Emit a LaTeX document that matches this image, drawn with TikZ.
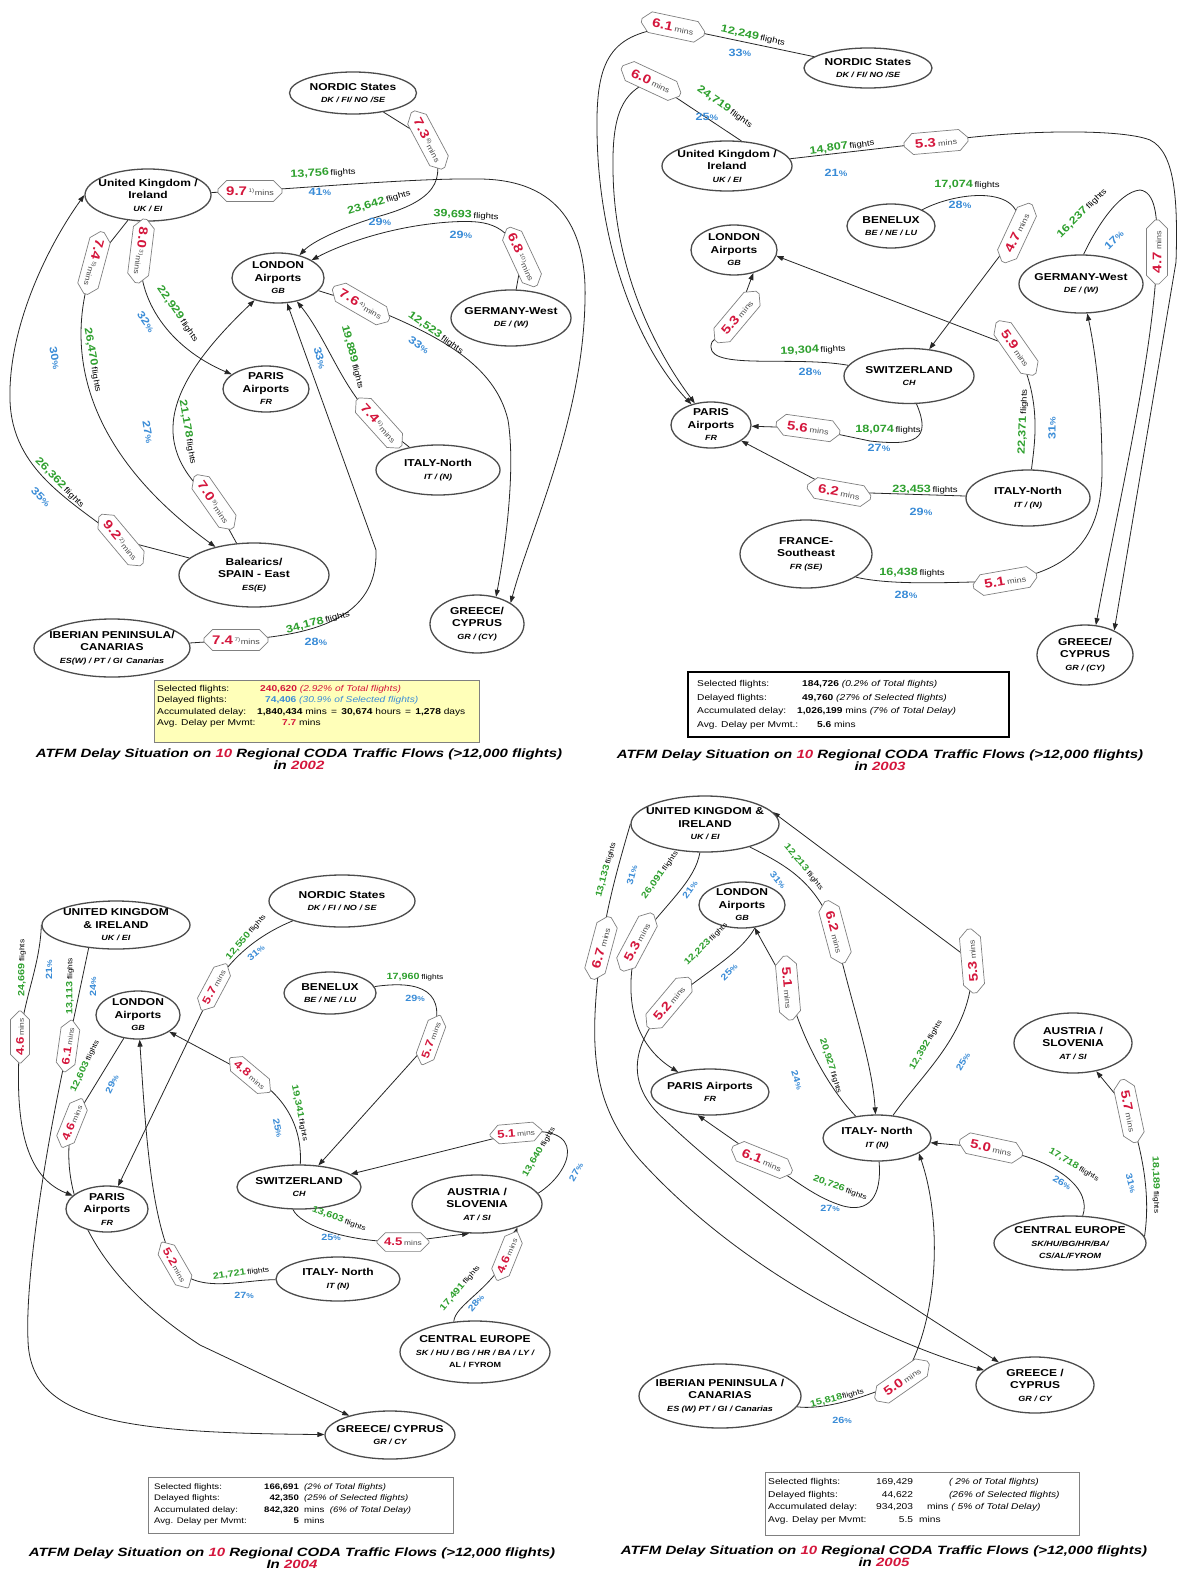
\documentclass[tikz,border=0pt]{standalone}
\usepackage{fontspec}
\setmainfont{Liberation Sans}[FakeStretch=1.2]
\newfontfamily\ttlfont{Liberation Sans}[FakeStretch=1.25]
\usetikzlibrary{shapes.geometric,shapes.misc,arrows.meta,backgrounds}
\definecolor{cred}{RGB}{212,22,60}
\definecolor{cgreen}{RGB}{46,160,46}
\definecolor{cblue}{RGB}{58,140,215}
\definecolor{cyel}{RGB}{255,255,185}
\newcommand\RegCode[1]{{\fontsize{7.5}{8}\selectfont\itshape #1}}
\newcommand\MinsLbl[2][]{{\fontsize{12.5}{13}\selectfont\bfseries\color{cred}#2}\,{\fontsize{7.5}{8}\selectfont\color{black!70}\textsuperscript{#1}mins}}
\newcommand\MinsS[1]{{\fontsize{11}{12}\selectfont\bfseries\color{cred}#1}\,{\fontsize{7}{8}\selectfont\color{black!70}mins}}
\newcommand\FlLbl[1]{{\fontsize{10.5}{11}\selectfont\bfseries\color{cgreen}#1}\,{\fontsize{8}{9}\selectfont flights}}
\newcommand\FlS[1]{{\fontsize{9}{10}\selectfont\bfseries\color{cgreen}#1}\,{\fontsize{7}{8}\selectfont flights}}
\newcommand\PcLbl[1]{{\fontsize{10.5}{11}\selectfont\bfseries\color{cblue}#1{\fontsize{8}{9}\selectfont\%}}}
\newcommand\PcS[1]{{\fontsize{9}{10}\selectfont\bfseries\color{cblue}#1{\fontsize{7}{8}\selectfont\%}}}
\begin{document}
\begin{tikzpicture}[x=1pt,y=-1pt,
 reg/.style={ellipse,draw=black!70,line width=1.3pt,fill=white,align=center,inner xsep=-10pt,inner ysep=-5pt,font=\fontsize{10}{12.5}\selectfont\bfseries},
 mbox/.style={chamfered rectangle,chamfered rectangle xsep=5pt,draw=black!50,line width=0.7pt,fill=white,inner xsep=1pt,inner ysep=2pt,minimum width=64pt,minimum height=21pt},
 mboxs/.style={mbox,minimum width=52pt,minimum height=18pt},
 lbl/.style={inner sep=0pt},
 flow/.style={draw=black!85,line width=0.8pt,-{Triangle[length=7pt,width=5pt]}},
 sbox/.style={draw=black!50,line width=0.8pt,inner sep=0pt},
 stxt/.style={anchor=north west,inner sep=0pt},
 ttl/.style={align=center,font=\ttlfont\fontsize{12}{12.5}\selectfont\bfseries\itshape}]
\useasboundingbox (0,0) rectangle (1178,1571);

% ================= PANEL 1 (2002) =================
\node[reg,minimum width=127pt,minimum height=42pt] (p1nor) at (353,93) {NORDIC States\\\RegCode{DK / FI/ NO /SE}};
\node[reg,minimum width=126pt,minimum height=52pt] (p1uk) at (148,195) {United Kingdom /\\Ireland\\\RegCode{UK / EI}};
\node[reg,minimum width=92pt,minimum height=50pt] (p1lon) at (278,278) {LONDON\\Airports\\\RegCode{GB}};
\node[reg,minimum width=120pt,minimum height=56pt] (p1de) at (511,318) {GERMANY-West\\\RegCode{DE / (W)}};
\node[reg,minimum width=86pt,minimum height=46pt] (p1par) at (266,389) {PARIS\\Airports\\\RegCode{FR}};
\node[reg,minimum width=124pt,minimum height=50pt] (p1it) at (438,470) {ITALY-North\\\RegCode{IT / (N)}};
\node[reg,minimum width=150pt,minimum height=64pt] (p1bal) at (254,575) {Balearics/\\SPAIN - East\\\RegCode{ES(E)}};
\node[reg,minimum width=156pt,minimum height=58pt] (p1ib) at (112,648) {IBERIAN PENINSULA/\\CANARIAS\\\RegCode{ES(W) / PT / GI\enspace Canarias}};
\node[reg,minimum width=94pt,minimum height=58pt] (p1gr) at (477,624) {GREECE/\\CYPRUS\\\RegCode{GR / (CY)}};

\node[mbox,rotate=-62] (m1a) at (428,140) {\MinsLbl[8)]{7.3}};
\node[mbox] (m1b) at (250,191) {\MinsLbl[1)]{9.7}};
\node[mbox,rotate=-65] (m1c) at (522,257) {\MinsLbl[10)]{6.8}};
\node[mbox,rotate=-30] (m1d) at (361,304) {\MinsLbl[4)]{7.6}};
\node[mbox,rotate=-48] (m1e) at (379,423) {\MinsLbl[6)]{7.4}};
\node[mbox,rotate=-97] (m1f) at (141,251) {\MinsLbl[3)]{8.0}};
\node[mbox,rotate=-105] (m1g) at (94,263) {\MinsLbl[5)]{7.4}};
\node[mbox,rotate=-50] (m1h) at (121,540) {\MinsLbl[2)]{9.2}};
\node[mbox,rotate=-55] (m1i) at (214,502) {\MinsLbl[9)]{7.0}};
\node[mbox] (m1j) at (236,640) {\MinsLbl[7)]{7.4}};

\node[lbl,rotate=3] (f1a) at (323,173) {\FlLbl{13,756}};
\node[lbl] (q1a) at (320,192) {\PcLbl{41}};
\node[lbl,rotate=17] (f1b) at (379,202) {\FlLbl{23,642}};
\node[lbl] (q1b) at (380,222) {\PcLbl{29}};
\node[lbl,rotate=-3] (f1c) at (466,215) {\FlLbl{39,693}};
\node[lbl] (q1c) at (461,235) {\PcLbl{29}};
\node[lbl,rotate=-55] (f1d) at (178,314) {\FlLbl{22,929}};
\node[lbl,rotate=-55] (q1d) at (146,322) {\PcLbl{32}};
\node[lbl,rotate=-80] (f1e) at (93,360) {\FlLbl{26,470}};
\node[lbl,rotate=-80] (q1e) at (55,358) {\PcLbl{30}};
\node[lbl,rotate=-75] (f1f) at (353,357) {\FlLbl{19,889}};
\node[lbl,rotate=-75] (q1f) at (320,358) {\PcLbl{33}};
\node[lbl,rotate=-35] (f1g) at (436,333) {\FlLbl{12,523}};
\node[lbl,rotate=-35] (q1g) at (419,345) {\PcLbl{33}};
\node[lbl,rotate=-80] (f1h) at (188,432) {\FlLbl{21,178}};
\node[lbl,rotate=-80] (q1h) at (148,432) {\PcLbl{27}};
\node[lbl,rotate=-45] (f1i) at (60,483) {\FlLbl{26,362}};
\node[lbl,rotate=-45] (q1i) at (41,497) {\PcLbl{35}};
\node[lbl,rotate=15] (f1j) at (318,622) {\FlLbl{34,178}};
\node[lbl] (q1j) at (316,642) {\PcLbl{28}};

\node[sbox,fill=cyel,minimum width=325pt,minimum height=62pt] (s1) at (316.5,711) {};
\node[stxt,font=\fontsize{8.5}{11.5}\selectfont] (s1t) at (157,683) {\begin{tabular}{@{}p{103pt}@{}l@{}}
Selected flights: & \color{cred}\textbf{240,620} \textit{(2.92\% of Total flights)}\\
Delayed flights: & \hspace*{5pt}\color{cblue}\textbf{74,406} \textit{(30.9\% of Selected flights)}\\
Accumulated delay: & \hspace*{-3pt}\textbf{1,840,434} mins \,=\, \textbf{30,674} hours \,=\, \textbf{1,278} days\\
Avg. Delay per Mvmt: & \hspace*{22pt}\textcolor{cred}{\textbf{7.7}} mins
\end{tabular}};
\node[ttl] (t1) at (299,759) {ATFM Delay Situation on \textcolor{cred}{10} Regional CODA Traffic Flows (>12,000 flights)\\in \textcolor{cred}{2002}};

% ================= PANEL 2 (2003) =================
\node[reg,minimum width=128pt,minimum height=40pt] (p2nor) at (868,68) {NORDIC States\\\RegCode{DK / FI/ NO /SE}};
\node[reg,minimum width=130pt,minimum height=50pt] (p2uk) at (727,166) {United Kingdom /\\Ireland\\\RegCode{UK / EI}};
\node[reg,minimum width=88pt,minimum height=44pt] (p2bnl) at (891,226) {BENELUX\\\RegCode{BE / NE / LU}};
\node[reg,minimum width=86pt,minimum height=50pt] (p2lon) at (734,250) {LONDON\\Airports\\\RegCode{GB}};
\node[reg,minimum width=124pt,minimum height=58pt] (p2de) at (1081,284) {GERMANY-West\\\RegCode{DE / (W)}};
\node[reg,minimum width=130pt,minimum height=55pt] (p2ch) at (909,376) {SWITZERLAND\\\RegCode{CH}};
\node[reg,minimum width=80pt,minimum height=46pt] (p2par) at (711,425) {PARIS\\Airports\\\RegCode{FR}};
\node[reg,minimum width=124pt,minimum height=56pt] (p2it) at (1028,498) {ITALY-North\\\RegCode{IT / (N)}};
\node[reg,minimum width=132pt,minimum height=68pt] (p2fr) at (806,554) {FRANCE-\\Southeast\\\RegCode{FR (SE)}};
\node[reg,minimum width=96pt,minimum height=60pt] (p2gr) at (1085,655) {GREECE/\\CYPRUS\\\RegCode{GR / (CY)}};

\node[mbox,rotate=-12] (m2a) at (673,27) {\MinsLbl{6.1}};
\node[mbox,rotate=-25] (m2b) at (651,81) {\MinsLbl{6.0}};
\node[mbox,rotate=5] (m2c) at (936,142) {\MinsLbl{5.3}};
\node[mbox,rotate=65] (m2d) at (1017,233) {\MinsLbl{4.7}};
\node[mbox,rotate=90] (m2e) at (1157,252) {\MinsLbl{4.7}};
\node[mbox,rotate=50] (m2f) at (737,317) {\MinsLbl{5.3}};
\node[mbox,rotate=-55] (m2g) at (1016,348) {\MinsLbl{5.9}};
\node[mbox,rotate=-8] (m2h) at (808,428) {\MinsLbl{5.6}};
\node[mbox,rotate=-10] (m2i) at (839,492) {\MinsLbl{6.2}};
\node[mbox,rotate=10] (m2j) at (1005,581) {\MinsLbl{5.1}};

\node[lbl,rotate=-12] (f2a) at (753,36) {\FlLbl{12,249}};
\node[lbl] (q2a) at (740,53) {\PcLbl{33}};
\node[lbl,rotate=-35] (f2b) at (725,107) {\FlLbl{24,719}};
\node[lbl] (q2b) at (707,117) {\PcLbl{25}};
\node[lbl,rotate=8] (f2c) at (842,147) {\FlLbl{14,807}};
\node[lbl] (q2c) at (836,173) {\PcLbl{21}};
\node[lbl] (f2d) at (967,185) {\FlLbl{17,074}};
\node[lbl] (q2d) at (960,205) {\PcLbl{28}};
\node[lbl,rotate=45] (f2e) at (1082,213) {\FlLbl{16,237}};
\node[lbl,rotate=45] (q2e) at (1114,240) {\PcLbl{17}};
\node[lbl,rotate=3] (f2f) at (813,350) {\FlLbl{19,304}};
\node[lbl] (q2f) at (810,372) {\PcLbl{28}};
\node[lbl] (f2g) at (888,430) {\FlLbl{18,074}};
\node[lbl] (q2g) at (879,448) {\PcLbl{27}};
\node[lbl,rotate=88] (f2h) at (1023,422) {\FlLbl{22,371}};
\node[lbl,rotate=90] (q2h) at (1052,428) {\PcLbl{31}};
\node[lbl] (f2i) at (925,490) {\FlLbl{23,453}};
\node[lbl] (q2i) at (921,512) {\PcLbl{29}};
\node[lbl] (f2j) at (912,573) {\FlLbl{16,438}};
\node[lbl] (q2j) at (906,595) {\PcLbl{28}};

\node[sbox,draw=black,line width=1.8pt,minimum width=321pt,minimum height=65pt] (s2) at (848.5,704.5) {};
\node[stxt,font=\fontsize{8.5}{13.5}\selectfont] (s2t) at (697,677) {\begin{tabular}{@{}p{105pt}@{}l@{}}
Selected flights: & \textbf{184,726} \textit{(0.2\% of Total flights)}\\
Delayed flights: & \textbf{49,760} \textit{(27\% of Selected flights)}\\
Accumulated delay: & \hspace*{-5pt}\textbf{1,026,199} mins \textit{(7\% of Total Delay)}\\
Avg. Delay per Mvmt.: & \hspace*{15pt}\textbf{5.6} mins
\end{tabular}};
\node[ttl] (t2) at (880,760) {ATFM Delay Situation on \textcolor{cred}{10} Regional CODA Traffic Flows (>12,000 flights)\\in \textcolor{cred}{2003}};

% ================= PANEL 3 (2004) =================
\node[reg,minimum width=148pt,minimum height=48pt] (p3uk) at (116,925) {UNITED KINGDOM\\\& IRELAND\\\RegCode{UK / EI}};
\node[reg,minimum width=146pt,minimum height=52pt] (p3nor) at (342,901) {NORDIC States\\\RegCode{DK / FI / NO / SE}};
\node[reg,minimum width=92pt,minimum height=42pt] (p3bnl) at (330,993) {BENELUX\\\RegCode{BE / NE / LU}};
\node[reg,minimum width=84pt,minimum height=48pt] (p3lon) at (138,1015) {LONDON\\Airports\\\RegCode{GB}};
\node[reg,minimum width=124pt,minimum height=44pt] (p3ch) at (299,1187) {SWITZERLAND\\\RegCode{CH}};
\node[reg,minimum width=130pt,minimum height=58pt] (p3at) at (477,1204) {AUSTRIA /\\SLOVENIA\\\RegCode{AT / SI}};
\node[reg,minimum width=82pt,minimum height=46pt] (p3par) at (107,1209) {PARIS\\Airports\\\RegCode{FR}};
\node[reg,minimum width=124pt,minimum height=44pt] (p3it) at (338,1279) {ITALY- North\\\RegCode{IT (N)}};
\node[reg,minimum width=150pt,minimum height=62pt] (p3ceu) at (475,1352) {CENTRAL EUROPE\\\RegCode{SK / HU / BG / HR / BA / LY /}\\{\fontsize{7.5}{8}\selectfont AL / FYROM}};
\node[reg,minimum width=130pt,minimum height=48pt] (p3gr) at (390,1435) {GREECE/ CYPRUS\\\RegCode{GR / CY}};

\node[mboxs,rotate=90] (m3a) at (20,1037) {\MinsS{4.6}};
\node[mboxs,rotate=82] (m3b) at (68,1046) {\MinsS{6.1}};
\node[mboxs,rotate=68] (m3c) at (72,1123) {\MinsS{4.6}};
\node[mboxs,rotate=62] (m3d) at (214,987) {\MinsS{5.7}};
\node[mboxs,rotate=70] (m3e) at (431,1040) {\MinsS{5.7}};
\node[mboxs,rotate=-40] (m3f) at (250,1075) {\MinsS{4.8}};
\node[mboxs,rotate=5] (m3g) at (516,1133) {\MinsS{5.1}};
\node[mboxs] (m3h) at (403,1242) {\MinsS{4.5}};
\node[mboxs,rotate=68] (m3i) at (507,1256) {\MinsS{4.6}};
\node[mboxs,rotate=-60] (m3j) at (175,1265) {\MinsS{5.2}};

\node[lbl,rotate=90] (f3a) at (22,968) {\FlS{24,669}};
\node[lbl,rotate=90] (q3a) at (49,970) {\PcS{21}};
\node[lbl,rotate=90] (f3b) at (70,986) {\FlS{13,113}};
\node[lbl,rotate=90] (q3b) at (93,987) {\PcS{24}};
\node[lbl,rotate=65] (f3c) at (85,1066) {\FlS{12,603}};
\node[lbl,rotate=65] (q3c) at (112,1084) {\PcS{29}};
\node[lbl,rotate=50] (f3d) at (246,937) {\FlS{12,550}};
\node[lbl,rotate=40] (q3d) at (256,953) {\PcS{31}};
\node[lbl] (f3e) at (415,977) {\FlS{17,960}};
\node[lbl] (q3e) at (415,998) {\PcS{29}};
\node[lbl,rotate=-78] (f3f) at (300,1113) {\FlS{19,341}};
\node[lbl,rotate=-78] (q3f) at (278,1128) {\PcS{25}};
\node[lbl,rotate=60] (f3g) at (539,1152) {\FlS{13,640}};
\node[lbl,rotate=60] (q3g) at (576,1172) {\PcS{27}};
\node[lbl,rotate=-20] (f3h) at (339,1219) {\FlS{13,603}};
\node[lbl] (q3h) at (331,1237) {\PcS{25}};
\node[lbl,rotate=50] (f3i) at (460,1288) {\FlS{17,491}};
\node[lbl,rotate=50] (q3i) at (476,1303) {\PcS{28}};
\node[lbl,rotate=8] (f3j) at (241,1273) {\FlS{21,721}};
\node[lbl] (q3j) at (244,1295) {\PcS{27}};

\node[sbox,minimum width=305pt,minimum height=56pt] (s3) at (300.5,1505) {};
\node[stxt,font=\fontsize{8}{11.5}\selectfont] (s3t) at (154,1481) {\begin{tabular}{@{}p{110pt}@{}r@{\ \ }l@{}}
Selected flights: & \textbf{166,691} & \textit{(2\% of Total flights)}\\
Delayed flights: & \textbf{42,350} & \textit{(25\% of Selected flights)}\\
Accumulated delay: & \textbf{842,320} & mins\ \ \textit{(6\% of Total Delay)}\\
Avg. Delay per Mvmt: & \textbf{5} & mins
\end{tabular}};
\node[ttl] (t3) at (292,1558) {ATFM Delay Situation on \textcolor{cred}{10} Regional CODA Traffic Flows (>12,000 flights)\\In \textcolor{cred}{2004}};

% ================= PANEL 4 (2005) =================
\node[reg,minimum width=148pt,minimum height=56pt] (p4uk) at (705,824) {UNITED KINGDOM \&\\IRELAND\\\RegCode{UK / EI}};
\node[reg,minimum width=86pt,minimum height=46pt] (p4lon) at (742,905) {LONDON\\Airports\\\RegCode{GB}};
\node[reg,minimum width=118pt,minimum height=60pt] (p4at) at (1073,1043) {AUSTRIA /\\SLOVENIA\\\RegCode{AT / SI}};
\node[reg,minimum width=118pt,minimum height=46pt] (p4par) at (710,1092) {PARIS Airports\\\RegCode{FR}};
\node[reg,minimum width=108pt,minimum height=46pt] (p4it) at (877,1138) {ITALY- North\\\RegCode{IT (N)}};
\node[reg,minimum width=152pt,minimum height=54pt] (p4ceu) at (1070,1243) {CENTRAL EUROPE\\\RegCode{SK/HU/BG/HR/BA/}\\\RegCode{CS/AL/FYROM}};
\node[reg,minimum width=118pt,minimum height=56pt] (p4gr) at (1035,1385) {GREECE /\\CYPRUS\\\RegCode{GR / CY}};
\node[reg,minimum width=162pt,minimum height=64pt] (p4ib) at (720,1396) {IBERIAN PENINSULA /\\CANARIAS\\\RegCode{ES (W) PT / GI / Canarias}};

\node[mbox,rotate=75] (m4a) at (601,948) {\MinsLbl{6.7}};
\node[mbox,rotate=62] (m4b) at (637,942) {\MinsLbl{5.3}};
\node[mbox,rotate=50] (m4c) at (669,1003) {\MinsLbl{5.2}};
\node[mbox,rotate=-85] (m4d) at (788,988) {\MinsLbl{5.1}};
\node[mbox,rotate=-75] (m4e) at (835,932) {\MinsLbl{6.2}};
\node[mbox,rotate=95] (m4f) at (972,961) {\MinsLbl{5.3}};
\node[mbox,rotate=-22] (m4g) at (762,1160) {\MinsLbl{6.1}};
\node[mbox,rotate=-12] (m4h) at (991,1148) {\MinsLbl{5.0}};
\node[mbox,rotate=-78] (m4i) at (1129,1111) {\MinsLbl{5.7}};
\node[mbox,rotate=35] (m4j) at (902,1381) {\MinsLbl{5.0}};

\node[lbl,rotate=75] (f4a) at (606,870) {\FlS{13,133}};
\node[lbl,rotate=75] (q4a) at (632,875) {\PcS{31}};
\node[lbl,rotate=55] (f4b) at (660,875) {\FlS{26,091}};
\node[lbl,rotate=55] (q4b) at (690,890) {\PcS{21}};
\node[lbl,rotate=45] (f4c) at (706,944) {\FlS{12,223}};
\node[lbl,rotate=45] (q4c) at (729,972) {\PcS{25}};
\node[lbl,rotate=-50] (f4d) at (804,867) {\FlS{12,213}};
\node[lbl,rotate=-50] (q4d) at (778,880) {\PcS{31}};
\node[lbl,rotate=-72] (f4e) at (831,1066) {\FlS{20,927}};
\node[lbl,rotate=-72] (q4e) at (797,1080) {\PcS{24}};
\node[lbl,rotate=60] (f4f) at (926,1045) {\FlS{12,392}};
\node[lbl,rotate=60] (q4f) at (963,1062) {\PcS{25}};
\node[lbl,rotate=-20] (f4g) at (840,1188) {\FlS{20,726}};
\node[lbl] (q4g) at (830,1208) {\PcS{27}};
\node[lbl,rotate=-30] (f4h) at (1074,1165) {\FlS{17,718}};
\node[lbl,rotate=-30] (q4h) at (1062,1183) {\PcS{26}};
\node[lbl,rotate=-88] (f4i) at (1156,1185) {\FlS{18,189}};
\node[lbl,rotate=-75] (q4i) at (1131,1183) {\PcS{31}};
\node[lbl,rotate=15] (f4j) at (837,1398) {{\fontsize{9}{10}\selectfont\bfseries\color{cgreen}15,818}{\fontsize{7}{8}\selectfont flights}};
\node[lbl] (q4j) at (842,1420) {\PcS{26}};

\node[sbox,minimum width=314pt,minimum height=63pt] (s4) at (922,1503.5) {};
\node[stxt,font=\fontsize{8.5}{12.5}\selectfont] (s4t) at (768,1476) {\begin{tabular}{@{}p{108pt}@{}r@{}l@{}}
Selected flights: & 169,429 & \hspace*{36pt}\textit{( 2\% of Total flights)}\\
Delayed flights: & 44,622 & \hspace*{36pt}\textit{(26\% of Selected flights)}\\
Accumulated delay: & 934,203 & \hspace*{14pt}mins \textit{( 5\% of Total Delay)}\\
Avg. Delay per Mvmt: & 5.5 & \hspace*{6pt}mins
\end{tabular}};
\node[ttl] (t4) at (884,1556) {ATFM Delay Situation on \textcolor{cred}{10} Regional CODA Traffic Flows (>12,000 flights)\\in \textcolor{cred}{2005}};

% ================= CONNECTORS =================
\begin{pgfonlayer}{background}
\fill[white] (0,0) rectangle (1178,1571);
% panel 1
\draw[flow] (p1nor) -- (m1a.center) .. controls (452,182) and (430,202) .. (380,216) .. controls (340,228) and (312,242) .. (p1lon);
\draw[flow] (p1de) -- (m1c.center) .. controls (505,222) and (485,220) .. (450,222) .. controls (390,226) and (340,245) .. (p1lon);
\draw[flow] (p1uk) -- (m1b.center) .. controls (330,186) and (420,178) .. (480,179) .. controls (560,180) and (587,230) .. (585,300) .. controls (583,420) and (530,530) .. (p1gr.32);
\draw[flow] (p1lon) -- (m1d.center) .. controls (440,335) and (495,365) .. (508,420) .. controls (516,470) and (505,550) .. (p1gr.55);
\draw[flow] (p1it) -- (m1e.center) .. controls (343,392) and (328,340) .. (p1lon);
\draw[flow] (p1ib) -- (m1j.center) .. controls (330,635) and (378,610) .. (376,550) -- (p1lon);
\draw[flow] (p1uk) -- (m1f.center) .. controls (136,300) and (170,348) .. (p1par);
\draw[flow] (p1uk) -- (m1g.center) .. controls (62,350) and (85,452) .. (p1bal);
\draw[flow] (p1bal) -- (m1h.center) .. controls (70,500) and (12,470) .. (10,400) .. controls (8,330) and (45,250) .. (p1uk.west);
\draw[flow] (p1bal) -- (m1i.center) .. controls (150,448) and (160,390) .. (p1lon);
% panel 2
\draw[flow] (p2nor) -- (m2a.center) .. controls (610,33) and (596,60) .. (597,130) .. controls (598,250) and (640,350) .. (p2par);
\draw[flow] (p2uk.60) -- (m2b.center) .. controls (622,92) and (612,115) .. (613,170) .. controls (614,270) and (655,350) .. (p2par);
\draw[flow] (p2uk) -- (m2c.center) .. controls (1010,130) and (1120,128) .. (1150,140) .. controls (1175,152) and (1178,200) .. (1176,262) -- (p2gr.40);
\draw[flow] (p2de.85) .. controls (1095,230) and (1118,192) .. (1140,190) .. controls (1155,192) and (1158,215) .. (m2e.center) .. controls (1155,350) and (1115,520) .. (p2gr.70);
\draw[flow] (p2fr.-25) .. controls (890,585) and (940,583) .. (m2j.center) .. controls (1070,570) and (1102,540) .. (1102,470) .. controls (1102,400) and (1095,350) .. (p2de);
\draw[flow] (p2bnl) .. controls (960,190) and (1030,185) .. (m2d.center) -- (p2ch);
\draw[flow] (p2ch) .. controls (790,355) and (700,372) .. (712,342) -- (m2f.center) -- (p2lon.-50);
\draw[flow] (p2it) .. controls (1035,440) and (1042,400) .. (m2g.center) -- (p2lon.-8);
\draw[flow] (p2ch.-75) .. controls (932,440) and (915,446) .. (870,441) -- (m2h.center) -- (p2par);
\draw[flow] (p2it) -- (m2i.center) -- (p2par);
% panel 3
\draw[flow] (p3uk.west) .. controls (40,965) and (25,995) .. (m3a.center) .. controls (15,1110) and (20,1175) .. (p3par);
\draw[flow] (p3uk.-140) -- (m3b.center) .. controls (45,1150) and (25,1280) .. (28,1340) .. controls (30,1420) and (120,1433) .. (p3gr);
\draw[flow] (p3lon) -- (m3c.center) .. controls (56,1200) and (100,1280) .. (200,1345) -- (p3gr);
\draw[flow] (p3nor) .. controls (270,930) and (235,950) .. (m3d.center) -- (p3par);
\draw[flow] (p3bnl) .. controls (420,980) and (450,990) .. (m3e.center) -- (p3ch);
\draw[flow] (p3ch) .. controls (302,1135) and (292,1100) .. (m3f.center) -- (p3lon);
\draw[flow] (p3at.10) .. controls (572,1172) and (590,1122) .. (m3g.center) -- (p3ch);
\draw[flow] (p3ch.-105) .. controls (300,1225) and (345,1242) .. (m3h.center) -- (p3at.-105);
\draw[flow] (p3ceu.125) .. controls (455,1305) and (490,1290) .. (m3i.center) -- (p3at.-30);
\draw[flow] (p3it) .. controls (240,1280) and (195,1295) .. (m3j.center) .. controls (150,1220) and (145,1120) .. (p3lon);
% panel 4
\draw[flow] (p4uk.west) .. controls (620,860) and (608,900) .. (m4a.center) .. controls (590,1040) and (588,1100) .. (640,1160) .. controls (740,1270) and (880,1340) .. (p4gr);
\draw[flow] (p4uk) .. controls (695,880) and (670,900) .. (m4b.center) .. controls (622,1000) and (635,1045) .. (p4par);
\draw[flow] (p4lon.-60) .. controls (740,955) and (700,975) .. (m4c.center) .. controls (630,1045) and (625,1085) .. (665,1120) .. controls (760,1210) and (900,1300) .. (p4gr);
\draw[flow] (p4uk) .. controls (785,865) and (815,880) .. (m4e.center) .. controls (850,1000) and (872,1060) .. (p4it);
\draw[flow] (p4it) .. controls (835,1095) and (805,1050) .. (m4d.center) -- (p4lon);
\draw[flow] (p4it) .. controls (925,1070) and (975,1030) .. (m4f.center) -- (p4uk.10);
\draw[flow] (p4it.-85) .. controls (882,1195) and (870,1215) .. (840,1205) .. controls (810,1195) and (790,1175) .. (m4g.center) -- (p4par.-118);
\draw[flow] (p4ceu.65) .. controls (1092,1190) and (1060,1160) .. (m4h.center) -- (p4it);
\draw[flow] (p4ceu.5) .. controls (1150,1200) and (1145,1160) .. (m4i.center) -- (p4at);
\draw[flow] (p4ib) .. controls (820,1410) and (860,1400) .. (m4j.center) .. controls (940,1320) and (942,1220) .. (p4it.-20);
\end{pgfonlayer}
\end{tikzpicture}
\end{document}
